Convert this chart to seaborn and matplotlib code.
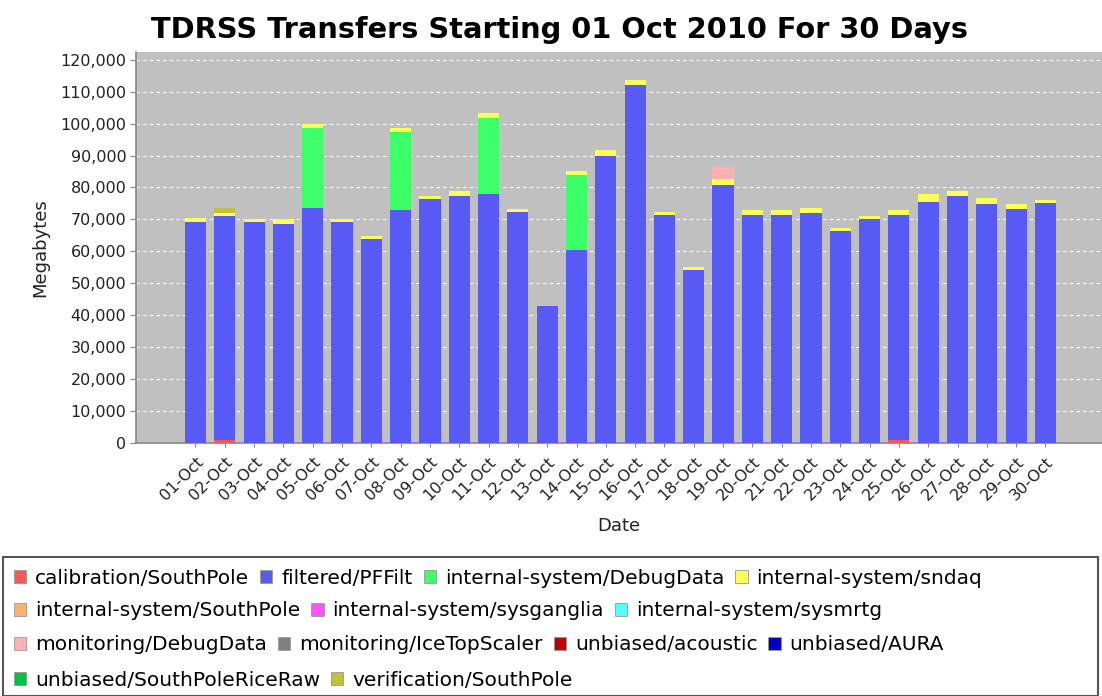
import numpy as np
import pandas as pd
import seaborn as sns
import matplotlib.pyplot as plt
from matplotlib.patches import Patch, Rectangle
from matplotlib.ticker import FuncFormatter, MultipleLocator

# data (MB per day)
dates = [f"{d:02d}-Oct" for d in range(1, 31)]

calibration = [0, 1000] + [0] * 22 + [1000] + [0] * 5
filtered = [69200, 70000, 69200, 68600, 73500, 69200, 63800, 73000, 76300, 77300,
            77900, 72400, 43000, 60500, 89800, 112100, 71400, 54100, 80900, 71400,
            71400, 72000, 66500, 70200, 70300, 75600, 77300, 74700, 73300, 75000]
debug_data = [0, 0, 0, 0, 25100, 0, 0, 24500, 0, 0,
              23900, 0, 0, 23250, 0, 0, 0, 0, 0, 0,
              0, 0, 0, 0, 0, 0, 0, 0, 0, 0]
sndaq = [1300, 1100, 800, 1400, 1300, 900, 900, 1000, 1000, 1600,
         1400, 1000, 0, 1500, 2000, 1500, 900, 900, 1750, 1400,
         1400, 1500, 900, 1000, 1500, 2200, 1600, 2000, 1600, 1000]
mon_debug = [0] * 18 + [3600] + [0] * 11
verification = [0, 1600] + [0] * 28

series_names = ["calibration/SouthPole", "filtered/PFFilt", "internal-system/DebugData",
                "internal-system/sndaq", "internal-system/SouthPole", "internal-system/sysganglia",
                "internal-system/sysmrtg", "monitoring/DebugData", "monitoring/IceTopScaler",
                "unbiased/acoustic", "unbiased/AURA", "unbiased/SouthPoleRiceRaw",
                "verification/SouthPole"]
series_colors = ["#FF5555", "#585AF5", "#3CFF6A", "#FFFF55", "#F9B46A", "#FF55FF",
                 "#55FFFF", "#FFAFAF", "#808080", "#C00000", "#0000C0", "#00C040", "#C0C040"]

# stacked layers, bottom to top
layers = [("calibration/SouthPole", calibration),
          ("filtered/PFFilt", filtered),
          ("internal-system/DebugData", debug_data),
          ("internal-system/sndaq", sndaq),
          ("monitoring/DebugData", mon_debug),
          ("verification/SouthPole", verification)]
color_map = dict(zip(series_names, series_colors))

fig = plt.figure(figsize=(11.02, 6.96), dpi=100)
ax = fig.add_axes([136 / 1102, 1 - 443 / 696, 1 - 136 / 1102, (443 - 52) / 696])
ax.set_facecolor("#C0C0C0")

bottom = np.zeros(len(dates))
for name, vals in layers:
    df = pd.DataFrame({"Date": dates, "MB": vals})
    sns.barplot(data=df, x="Date", y="MB", order=dates, color=color_map[name],
                saturation=1, width=0.72, bottom=bottom, linewidth=0, ax=ax, zorder=3)
    bottom = bottom + np.array(vals)

ax.set_xlim(-2.03, 30.93)
ax.set_ylim(0, 122400)
ax.yaxis.set_major_locator(MultipleLocator(10000))
ax.yaxis.set_major_formatter(FuncFormatter(lambda v, p: f"{int(v):,}"))
ax.grid(axis="y", color="white", linestyle=(0, (3, 3)), linewidth=0.8, zorder=0)
ax.grid(axis="x", visible=False)
ax.set_axisbelow(True)

for s in ["top", "right"]:
    ax.spines[s].set_visible(False)
for s in ["left", "bottom"]:
    ax.spines[s].set_color("#888888")
    ax.spines[s].set_linewidth(1.2)

ax.tick_params(axis="y", labelsize=11.5, length=4, color="#888888", labelcolor="#222222", pad=3)
ax.tick_params(axis="x", labelsize=11.5, length=3, color="#888888", labelcolor="#222222", pad=5)
plt.setp(ax.get_xticklabels(), rotation=45, ha="right", rotation_mode="anchor")

ax.set_xlabel("Date", fontsize=13, color="#222222", labelpad=10)
ax.set_ylabel("Megabytes", fontsize=13, color="#222222", labelpad=8)
fig.suptitle("TDRSS Transfers Starting 01 Oct 2010 For 30 Days", x=0.508, y=0.977,
             fontsize=20.8, fontweight="bold")

# legend laid out in flow rows like the original
rows = [series_names[0:4], series_names[4:7], series_names[7:11], series_names[11:13]]
row_y = [578, 611, 645, 680]
for names, yp in zip(rows, row_y):
    handles = [Patch(facecolor=color_map[n], edgecolor="#999999", linewidth=0.6, label=n)
               for n in names]
    fig.legend(handles=handles, loc="center left", bbox_to_anchor=(14 / 1102, 1 - yp / 696),
               ncol=len(names), frameon=False, borderpad=0, borderaxespad=0,
               handlelength=0.6, handleheight=0.6, handletextpad=0.45,
               columnspacing=0.55, prop={"family": "DejaVu Sans", "size": 14.5})

fig.add_artist(Rectangle((3 / 1102, 0), 1 - 7 / 1102, 1 - 557 / 696, transform=fig.transFigure,
                         fill=False, edgecolor="#555555", linewidth=1.5))

plt.savefig("out.png", dpi=100)
plt.close()
